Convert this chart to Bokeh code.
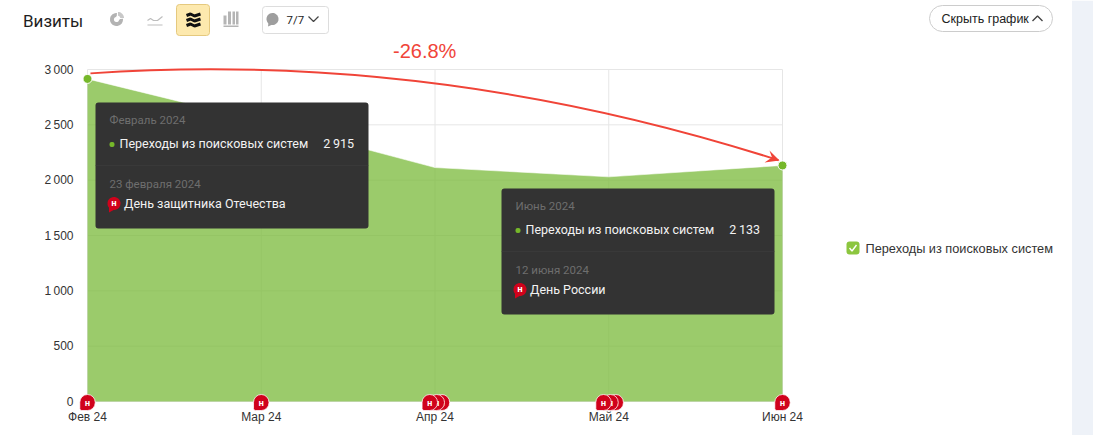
import numpy as np
from bokeh.plotting import figure
from bokeh.models import (Range1d, FixedTicker, Label, BoxAnnotation, PolyAnnotation)
from bokeh.embed import file_html
from bokeh.resources import INLINE

months = ["Фев 24", "Мар 24", "Апр 24", "Май 24", "Июн 24"]
month_pos = [0, 1, 2, 3, 4]
visits = [2915, 2530, 2114, 2030, 2133]
y_ticks = [0, 500, 1000, 1500, 2000, 2500, 3000]
y_labels = {0: "0", 500: "500", 1000: "1\u2009000", 1500: "1\u2009500",
            2000: "2\u2009000", 2500: "2\u2009500", 3000: "3\u2009000"}
marked_pos = [0, 4]
marked_val = [2915, 2133]
holiday_pos = [4.0, 3.04, 3.01, 2.97, 2.04, 2.01, 1.97, 1.0, 0.0]
trend_start = (0.017, 2965)
trend_ctrl = (2.0, 3176)
trend_end = (3.977, 2180)
series_name = "Переходы из поисковых систем"

W, H = 1093, 435
X0, X1, Y0, Y1 = 87, 782, 401, 69
ux = (X1 - X0) / 4
uy = (Y0 - Y1) / 3000

p = figure(width=W, height=H, output_backend="svg", toolbar_location=None,
           x_range=Range1d(-X0 / ux, (W - X0) / ux), y_range=Range1d(-(H - Y0) / uy, Y0 / uy),
           min_border_left=0, min_border_right=0, min_border_top=0, min_border_bottom=0)
p.outline_line_color = None
p.background_fill_color = "white"
p.border_fill_color = "white"
p.xgrid.visible = False
p.ygrid.visible = False
p.xaxis.fixed_location = 0
p.yaxis.fixed_location = 0
p.xaxis.ticker = FixedTicker(ticks=month_pos)
p.xaxis.major_label_overrides = dict(zip(month_pos, months))
p.yaxis.ticker = FixedTicker(ticks=y_ticks)
p.yaxis.major_label_overrides = y_labels
for ax in (p.xaxis[0], p.yaxis[0]):
    ax.axis_line_color = None
    ax.major_tick_line_color = None
    ax.minor_tick_line_color = None
    ax.major_tick_out = 0
    ax.major_tick_in = 0
    ax.minor_tick_out = 0
    ax.minor_tick_in = 0
    ax.major_label_text_font = "Liberation Sans"
    ax.major_label_text_font_size = "12px"
    ax.major_label_text_color = "#333333"
p.xaxis.major_label_standoff = 8
p.yaxis.major_label_standoff = 14

top = y_ticks[-1]
p.segment(x0=[month_pos[0]] * len(y_ticks), x1=[month_pos[-1]] * len(y_ticks), y0=y_ticks, y1=y_ticks,
          line_color="#e6e6e6", line_width=1, level="underlay")
p.segment(x0=month_pos, x1=month_pos, y0=[0] * len(month_pos), y1=[top] * len(month_pos),
          line_color="#e6e6e6", line_width=1, level="underlay")
p.varea(x=month_pos, y1=[0] * len(visits), y2=visits, fill_color="#7cbb3c", fill_alpha=0.76)
p.line(x=month_pos, y=visits, line_color="white", line_alpha=0.55, line_width=1)
p.scatter(x=marked_pos, y=marked_val, size=9, fill_color="#76b82a", line_color="white", line_width=1)
p.quadratic(x0=[trend_start[0]], y0=[trend_start[1]], x1=[trend_end[0]], y1=[trend_end[1]],
            cx=[trend_ctrl[0]], cy=[trend_ctrl[1]], line_color="#f04438", line_width=2)


def cx(px):
    return px


def cy(py):
    return H - py


def text(t, px, py, size, color, font="Liberation Sans", align="left", base="middle", weight="normal"):
    p.add_layout(Label(x=cx(px), y=cy(py), x_units="screen", y_units="screen", text=t,
                       text_font=font, text_font_size=f"{size}px", text_color=color,
                       text_align=align, text_baseline=base, text_font_style=weight))


def box(x0, y0, x1, y1, fill, line=None, radius=0, lw=1):
    p.add_layout(BoxAnnotation(left=cx(x0), right=cx(x1), top=cy(y0), bottom=cy(y1),
                               left_units="screen", right_units="screen", top_units="screen", bottom_units="screen",
                               fill_color=fill, fill_alpha=1, line_color=line, line_width=lw,
                               line_alpha=1 if line else 0, border_radius=radius, level="annotation", editable=False))


def poly(pts, fill=None, line=None, lw=1.0, closed=True):
    pts = list(pts)
    if not closed:
        pts = pts + pts[::-1]
    p.add_layout(PolyAnnotation(xs=[cx(a) for a, _ in pts], ys=[cy(b) for _, b in pts],
                                xs_units="screen", ys_units="screen",
                                fill_color=fill, fill_alpha=1 if fill else 0,
                                line_color=line, line_alpha=1 if line else 0, line_width=lw,
                                level="annotation", editable=False))


def circle_pts(x, y, r, a0=0, a1=2 * np.pi, n=32):
    return [(float(x + r * np.cos(t)), float(y + r * np.sin(t))) for t in np.linspace(a0, a1, n)]


# arrow head
poly([(779, 160), (769, 150), (771.5, 157), (764, 162)], fill="#f04438")

# holiday markers on the axis
for h in holiday_pos:
    p.add_layout(Label(x=h, y=0, y_offset=-1, text="н",
                       text_font="Liberation Sans", text_font_size="9px", text_font_style="bold",
                       text_color="white", text_align="center", text_baseline="middle",
                       background_fill_color="#d0021b", border_line_color="white", border_line_alpha=0.75,
                       border_radius=dict(top_left=8, top_right=8, bottom_right=8, bottom_left=2),
                       padding=dict(left=5, right=5, top=3, bottom=3)))

# right panel
box(1071.5, 0, 1093, 435, "#eef2f8")

# header
text("Визиты", 22.5, 20, 17, "#1f1f1f", font="Roboto")
text("-26.8%", 392.5, 50, 20, "#f04438")

# pie icon
poly(circle_pts(116, 19, 6.5), fill="#b3b3b3")
poly(circle_pts(116, 19, 2.6), fill="white")
poly([(116, 19), (116.5, 11), (124, 11), (124, 18)], fill="white")
poly(circle_pts(117.5, 17.5, 6, -np.pi / 2, 0, 10) + [(117.5, 17.5)], fill="#c8c8c8")
poly(circle_pts(117.5, 17.5, 2.2), fill="white")
# line icon
poly([(147, 20), (150, 18), (153, 20), (157, 20), (162, 16)], line="#bdbdbd", lw=1.2, closed=False)
poly([(147, 24.5), (162, 24.5)], line="#bdbdbd", lw=1.2, closed=False)
# stacked icon (active)
box(176, 4, 209, 35, "#fde9ae", line="#e5c97e", radius=3)
for dy in (0, 5, 10):
    poly([(186, 15 + dy), (190, 13.5 + dy), (194, 15.5 + dy), (200, 13.5 + dy)], line="#111111", lw=3, closed=False)
# bars icon
for bx, by, bw in ((223, 15, 3), (227.5, 11, 3), (232, 11, 2.5), (235.5, 11, 2.5)):
    box(bx, by, bx + bw, 24, "#b5b5b5")
box(223, 25, 238, 26.5, "#b5b5b5")
# comments button
box(262, 6, 328, 33, "white", line="#dddddd", radius=3)
poly(circle_pts(272, 18.5, 6), fill="#9e9e9e")
poly([(268, 22), (267.5, 26), (272, 24)], fill="#9e9e9e")
text("7/7", 286, 19.5, 11.5, "#222222", font="Roboto")
poly([(308, 16), (313, 21), (318, 16)], line="#444444", lw=1.2, closed=False)

# hide button
box(929, 5, 1052, 31, "white", line="#cccccc", radius=13)
text("Скрыть график", 941, 18, 12.5, "#222222")
poly([(1032, 20.5), (1037, 15.5), (1042, 20.5)], line="#444444", lw=1.4, closed=False)

# legend
box(846, 241, 859, 254, "#8cc63f", radius=3)
poly([(849, 247.5), (851.5, 250.5), (856, 244.5)], line="white", lw=1.4, closed=False)
text(series_name, 865, 247.5, 12.75, "#333333")


def tooltip(x0, y0, period, val, day, hol):
    box(x0, y0, x0 + 273, y0 + 126, "#333333", radius=3)
    box(x0, y0 + 63, x0 + 273, y0 + 63.6, "#414141")
    text(period, x0 + 14, y0 + 17.7, 11.5, "#6e6e6e", font="Roboto")
    box(x0 + 14, y0 + 39.5, x0 + 19, y0 + 44.5, "#76b82a", radius=2)
    text(series_name, x0 + 24, y0 + 40.7, 12.5, "#f2f2f2", font="Roboto")
    text(val, x0 + 258.5, y0 + 40.7, 12.5, "#f2f2f2", font="Roboto", align="right")
    text(day, x0 + 14, y0 + 81.2, 11.5, "#6e6e6e", font="Roboto")
    poly(circle_pts(x0 + 18.5, y0 + 101, 6.5), fill="#d0021b")
    poly([(x0 + 13.5, y0 + 104), (x0 + 13.5, y0 + 110), (x0 + 19, y0 + 107)], fill="#d0021b")
    text("н", x0 + 18.5, y0 + 100.5, 9, "white", align="center", weight="bold")
    text(hol, x0 + 28.5, y0 + 101.2, 12.5, "#f2f2f2", font="Roboto")


tooltip(95, 102, "Февраль 2024", "2\u2009915", "23 февраля 2024", "День защитника Отечества")
tooltip(501, 188, "Июнь 2024", "2\u2009133", "12 июня 2024", "День России")

open("out.html", "w").write(file_html(p, INLINE))
